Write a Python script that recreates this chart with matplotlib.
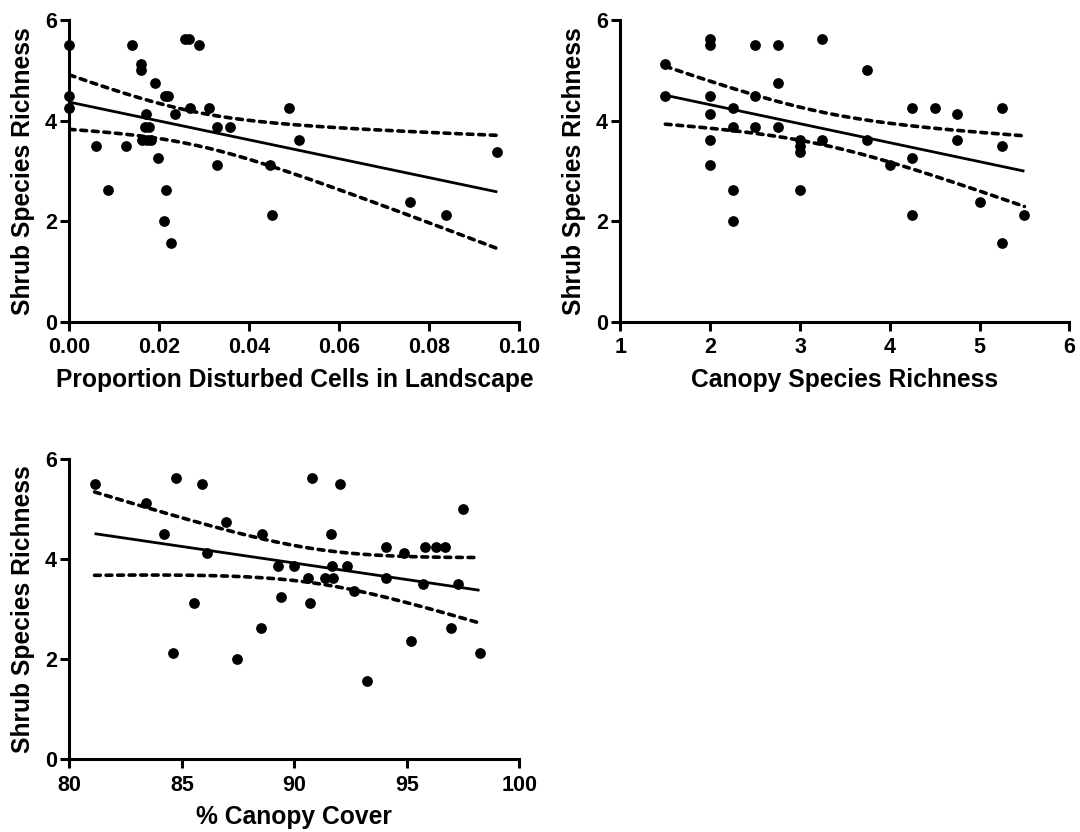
import numpy as np
import matplotlib
matplotlib.use("Agg")
import matplotlib.pyplot as plt
import matplotlib.ticker as mticker

plt.rcParams["font.family"] = ["Liberation Sans", "DejaVu Sans"]
plt.rcParams["font.weight"] = "bold"

# panel 1: proportion of disturbed cells
disturbed = [0.0, 0.0, 0.0, 0.006, 0.0086, 0.0125, 0.014, 0.016, 0.016, 0.019,
             0.0212, 0.022, 0.017, 0.0168, 0.0178, 0.0162, 0.0172, 0.0182, 0.0197, 0.0215,
             0.021, 0.0226, 0.0235, 0.0258, 0.0266, 0.0288, 0.0268, 0.031, 0.0328, 0.0328,
             0.0356, 0.0446, 0.0451, 0.0488, 0.0511, 0.0757, 0.0838, 0.0951]
richness_dist = [5.5, 4.5, 4.25, 3.5, 2.625, 3.5, 5.5, 5.125, 5.0, 4.75,
                 4.5, 4.5, 4.125, 3.875, 3.875, 3.625, 3.625, 3.625, 3.25, 2.625,
                 2.0, 1.5625, 4.125, 5.625, 5.625, 5.5, 4.25, 4.25, 3.875, 3.125,
                 3.875, 3.125, 2.125, 4.25, 3.625, 2.375, 2.125, 3.375]

# panel 2: canopy species richness
canopy_rich = [1.5, 1.5, 2, 2, 2, 2, 2, 2, 2.25, 2.25,
               2.25, 2.25, 2.5, 2.5, 2.5, 2.75, 2.75, 2.75, 3, 3,
               3, 3, 3.25, 3.25, 3.75, 3.75, 4.0, 4.25, 4.25, 4.25,
               4.5, 4.75, 4.75, 5.0, 5.25, 5.25, 5.25, 5.5]
richness_canopy = [5.125, 4.5, 5.625, 5.5, 4.5, 4.125, 3.625, 3.125, 4.25, 3.875,
                   2.625, 2.0, 5.5, 4.5, 3.875, 5.5, 4.75, 3.875, 3.625, 3.5,
                   3.375, 2.625, 5.625, 3.625, 5.0, 3.625, 3.125, 4.25, 3.25, 2.125,
                   4.25, 4.125, 3.625, 2.375, 4.25, 3.5, 1.5625, 2.125]

# panel 3: % canopy cover
cover = [81.12, 83.42, 84.2, 84.73, 84.59, 85.55, 85.91, 86.1, 86.98, 87.45,
         88.52, 88.56, 89.29, 89.4, 90.0, 90.59, 90.69, 90.78, 91.35, 91.62,
         91.69, 91.71, 92.01, 92.34, 92.66, 93.24, 94.08, 94.08, 94.89, 95.19,
         95.7, 95.79, 96.29, 96.7, 96.94, 97.28, 97.48, 98.23]
richness_cover = [5.5, 5.125, 4.5, 5.625, 2.125, 3.125, 5.5, 4.125, 4.75, 2.0,
                  2.625, 4.5, 3.875, 3.25, 3.875, 3.625, 3.125, 5.625, 3.625, 4.5,
                  3.875, 3.625, 5.5, 3.875, 3.375, 1.5625, 4.25, 3.625, 4.125, 2.375,
                  3.5, 4.25, 4.25, 4.25, 2.625, 3.5, 5.0, 2.125]

T_CRIT = 2.028  # t(0.975, df=36)

LW_AXIS = 2.2


def fit_with_band(x, y):
    x = np.asarray(x, float)
    y = np.asarray(y, float)
    n = len(x)
    slope, intercept = np.polyfit(x, y, 1)
    resid = y - (slope * x + intercept)
    s = np.sqrt(np.sum(resid ** 2) / (n - 2))
    xm = x.mean()
    sxx = np.sum((x - xm) ** 2)
    xs = np.linspace(x.min(), x.max(), 200)
    ys = slope * xs + intercept
    se = s * np.sqrt(1.0 / n + (xs - xm) ** 2 / sxx)
    return xs, ys, ys - T_CRIT * se, ys + T_CRIT * se


def draw_panel(ax, x, y, xlim, xticks, xfmt, xlabel):
    ax.scatter(x, y, s=60, color="black", zorder=3, clip_on=False, linewidths=0)
    xs, ys, lo, hi = fit_with_band(x, y)
    ax.plot(xs, ys, color="black", lw=2.0, solid_capstyle="butt")
    for band in (lo, hi):
        ax.plot(xs, band, color="black", lw=2.6, linestyle=(0, (1.6, 1.6)),
                dash_capstyle="round")

    ax.set_xlim(*xlim)
    ax.set_ylim(0, 6)
    ax.set_xticks(xticks)
    ax.set_yticks([0, 2, 4, 6])
    ax.xaxis.set_major_formatter(mticker.FormatStrFormatter(xfmt))
    for side in ("top", "right"):
        ax.spines[side].set_visible(False)
    for side in ("left", "bottom"):
        ax.spines[side].set_linewidth(LW_AXIS)
    ax.tick_params(direction="out", length=6.5, width=LW_AXIS, labelsize=15.5)
    ax.tick_params(axis="x", pad=4.5)
    ax.tick_params(axis="y", pad=2.5)
    for lab in ax.get_xticklabels() + ax.get_yticklabels():
        lab.set_fontweight("bold")
    ax.set_xlabel(xlabel, fontsize=17.7, fontweight="bold", labelpad=7)
    ax.set_ylabel("Shrub Species Richness", fontsize=17.7, fontweight="bold", labelpad=7)


fig = plt.figure(figsize=(10.8, 8.32), dpi=100)
ax1 = fig.add_axes([0.0642, 0.6133, 0.4167, 0.3624])
ax2 = fig.add_axes([0.5745, 0.6133, 0.4156, 0.3624])
ax3 = fig.add_axes([0.0642, 0.0874, 0.4167, 0.3606])

draw_panel(ax1, disturbed, richness_dist, (0, 0.10),
           [0, 0.02, 0.04, 0.06, 0.08, 0.10], "%.2f",
           "Proportion Disturbed Cells in Landscape")
draw_panel(ax2, canopy_rich, richness_canopy, (1, 6),
           [1, 2, 3, 4, 5, 6], "%d", "Canopy Species Richness")
draw_panel(ax3, cover, richness_cover, (80, 100),
           [80, 85, 90, 95, 100], "%d", "% Canopy Cover")

fig.savefig("out.png", dpi=100)
